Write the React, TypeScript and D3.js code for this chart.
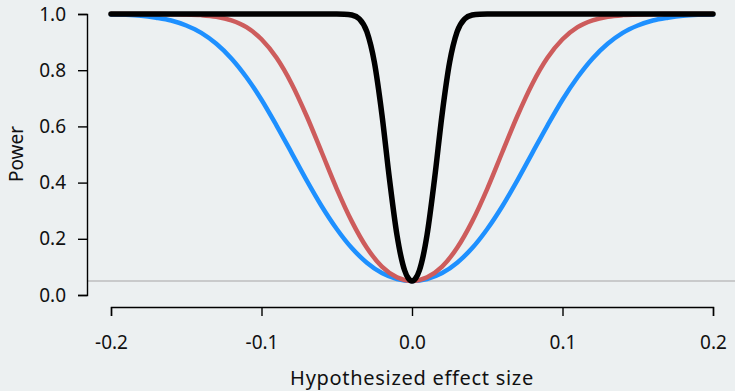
import React, { useEffect, useRef } from "react";
import * as d3 from "d3";

// effect sizes and power values
const effectWide = [
  -0.2, -0.19, -0.18, -0.17, -0.16, -0.15, -0.14, -0.13, -0.12, -0.11, -0.1,
  -0.09, -0.08, -0.07, -0.06, -0.05, -0.04, -0.03, -0.02, -0.01, 0, 0.01, 0.02,
  0.03, 0.04, 0.05, 0.06, 0.07, 0.08, 0.09, 0.1, 0.11, 0.12, 0.13, 0.14, 0.15,
  0.16, 0.17, 0.18, 0.19, 0.2,
];
const powerBlue = [
  0.998, 0.997, 0.994, 0.987, 0.977, 0.959, 0.933, 0.894, 0.842, 0.775, 0.695,
  0.603, 0.506, 0.408, 0.316, 0.235, 0.167, 0.115, 0.078, 0.057, 0.05, 0.057,
  0.078, 0.115, 0.167, 0.235, 0.316, 0.408, 0.506, 0.603, 0.695, 0.775, 0.842,
  0.894, 0.933, 0.959, 0.977, 0.987, 0.994, 0.997, 0.998,
];
const powerRed = [
  1.0, 1.0, 1.0, 1.0, 0.9995, 0.9986, 0.996, 0.99, 0.977, 0.953, 0.91, 0.844,
  0.752, 0.637, 0.508, 0.378, 0.262, 0.168, 0.101, 0.063, 0.05, 0.063, 0.101,
  0.168, 0.262, 0.378, 0.508, 0.637, 0.752, 0.844, 0.91, 0.953, 0.977, 0.99,
  0.996, 0.9986, 0.9995, 1.0, 1.0, 1.0, 1.0,
];
const effectNarrow = [
  -0.2, -0.1, -0.06, -0.05, -0.045, -0.04, -0.035, -0.03, -0.025, -0.02,
  -0.015, -0.01, -0.0075, -0.005, -0.0025, 0, 0.0025, 0.005, 0.0075, 0.01,
  0.015, 0.02, 0.025, 0.03, 0.035, 0.04, 0.045, 0.05, 0.06, 0.1, 0.2,
];
const powerBlack = [
  1.0, 1.0, 1.0, 1.0, 0.9995, 0.9964, 0.9826, 0.937, 0.828, 0.643, 0.414,
  0.214, 0.141, 0.089, 0.06, 0.05, 0.06, 0.089, 0.141, 0.214, 0.414, 0.643,
  0.828, 0.937, 0.9826, 0.9964, 0.9995, 1.0, 1.0, 1.0, 1.0,
];
const xTicks = [-0.2, -0.1, 0, 0.1, 0.2];
const yTicks = [0, 0.2, 0.4, 0.6, 0.8, 1.0];
const alpha = 0.05;

const width = 735;
const height = 391;
const font = "'Noto Sans', sans-serif";

// plain hyphen for negatives, like the original
const fmt = (d: d3.NumberValue) => (+d).toFixed(1);

const App = () => {
  const svgRef = useRef<SVGSVGElement>(null);

  useEffect(() => {
    const svg = d3.select(svgRef.current);
    svg.selectAll("*").remove();

    svg
      .append("rect")
      .attr("width", width)
      .attr("height", height)
      .attr("fill", "#ecf0f1");

    const x = d3.scaleLinear().domain([-0.2, 0.2]).range([111, 713]);
    const y = d3.scaleLinear().domain([0, 1]).range([295, 14]);

    // significance level reference line
    svg
      .append("line")
      .attr("x1", 87)
      .attr("x2", width)
      .attr("y1", y(alpha))
      .attr("y2", y(alpha))
      .attr("stroke", "#bebebe")
      .attr("stroke-width", 1.6);

    // y axis
    const yAxis = svg
      .append("g")
      .attr("transform", "translate(87,0)")
      .call(
        d3
          .axisLeft(y)
          .tickValues(yTicks)
          .tickFormat(fmt)
          .tickSizeOuter(0)
          .tickSize(9)
          .tickPadding(12)
      );

    // x axis
    const xAxis = svg
      .append("g")
      .attr("transform", "translate(0,307)")
      .call(
        d3
          .axisBottom(x)
          .tickValues(xTicks)
          .tickFormat(fmt)
          .tickSizeOuter(0)
          .tickSize(9)
          .tickPadding(20)
      );

    [xAxis, yAxis].forEach((a) => {
      a.selectAll("path").attr("stroke", "#000").attr("stroke-width", 1.4);
      a.selectAll("line").attr("stroke", "#000").attr("stroke-width", 1.4);
      a.selectAll("text")
        .attr("fill", "#111")
        .style("font-family", font)
        .style("font-size", "19px");
    });

    const line = d3
      .line<[number, number]>()
      .x((d) => x(d[0]))
      .y((d) => y(d[1]))
      .curve(d3.curveMonotoneX);

    const series: { xs: number[]; ys: number[]; color: string; w: number }[] = [
      { xs: effectWide, ys: powerBlue, color: "#1e90ff", w: 4.5 },
      { xs: effectWide, ys: powerRed, color: "#cd5c5c", w: 4.5 },
      { xs: effectNarrow, ys: powerBlack, color: "#000000", w: 5.5 },
    ];

    series.forEach((s) => {
      svg
        .append("path")
        .datum(s.xs.map((v, i) => [v, s.ys[i]] as [number, number]))
        .attr("d", line)
        .attr("fill", "none")
        .attr("stroke", s.color)
        .attr("stroke-width", s.w)
        .attr("stroke-linecap", "round")
        .attr("stroke-linejoin", "round");
    });

    svg
      .append("text")
      .attr("x", 412)
      .attr("y", 385)
      .attr("text-anchor", "middle")
      .attr("fill", "#111")
      .style("font-family", font)
      .style("font-size", "20px")
      .style("letter-spacing", "0.7px")
      .text("Hypothesized effect size");

    svg
      .append("text")
      .attr("transform", "translate(23,154) rotate(-90)")
      .attr("text-anchor", "middle")
      .attr("fill", "#111")
      .style("font-family", font)
      .style("font-size", "19px")
      .text("Power");
  }, []);

  return (
    <svg
      ref={svgRef}
      width={width}
      height={height}
      style={{ position: "absolute", left: 0, top: 0 }}
    ></svg>
  );
};

export default App;
